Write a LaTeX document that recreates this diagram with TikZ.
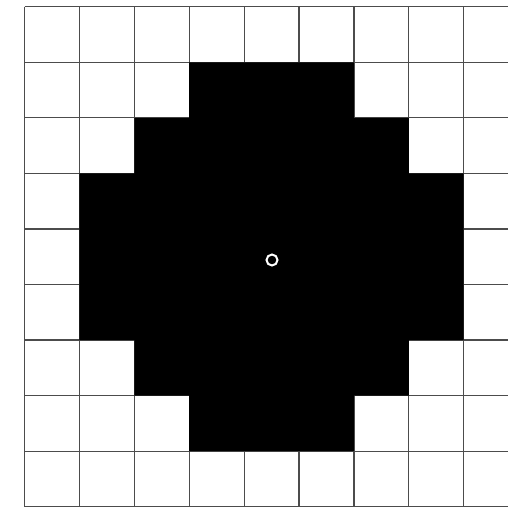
\documentclass[tikz,border=0pt]{standalone}
\tikzset{
  gridline/.style={draw=black!70, line width=1.2pt},
  blob/.style={fill=black},
  ring/.style={circle, draw=white, line width=2pt, minimum size=11pt, inner sep=0pt}
}
\begin{document}
\begin{tikzpicture}[x=1pt,y=-1pt]
\useasboundingbox (0,0) rectangle (508,514);
\fill[white] (0,0) rectangle (508,514);
\clip (0,0) rectangle (508,514);
\def\cx#1{24.5+54.9*#1}
\def\ry#1{6.7+55.56*#1}
\foreach \i in {0,...,9} \draw[gridline] ({\cx{\i}},{\ry{0}}) -- ({\cx{\i}},{\ry{9}});
\foreach \j in {0,...,9} \draw[gridline] ({\cx{0}},{\ry{\j}}) -- (520,{\ry{\j}});
\fill[blob] ({\cx{3}},{\ry{1}}) -- ({\cx{6}},{\ry{1}}) -- ({\cx{6}},{\ry{2}}) -- ({\cx{7}},{\ry{2}})
  -- ({\cx{7}},{\ry{3}}) -- ({\cx{8}},{\ry{3}}) -- ({\cx{8}},{\ry{6}}) -- ({\cx{7}},{\ry{6}})
  -- ({\cx{7}},{\ry{7}}) -- ({\cx{6}},{\ry{7}}) -- ({\cx{6}},{\ry{8}}) -- ({\cx{3}},{\ry{8}})
  -- ({\cx{3}},{\ry{7}}) -- ({\cx{2}},{\ry{7}}) -- ({\cx{2}},{\ry{6}}) -- ({\cx{1}},{\ry{6}})
  -- ({\cx{1}},{\ry{3}}) -- ({\cx{2}},{\ry{3}}) -- ({\cx{2}},{\ry{2}}) -- ({\cx{3}},{\ry{2}}) -- cycle;
\node[ring] (o) at (272,260) {};
\end{tikzpicture}
\end{document}
